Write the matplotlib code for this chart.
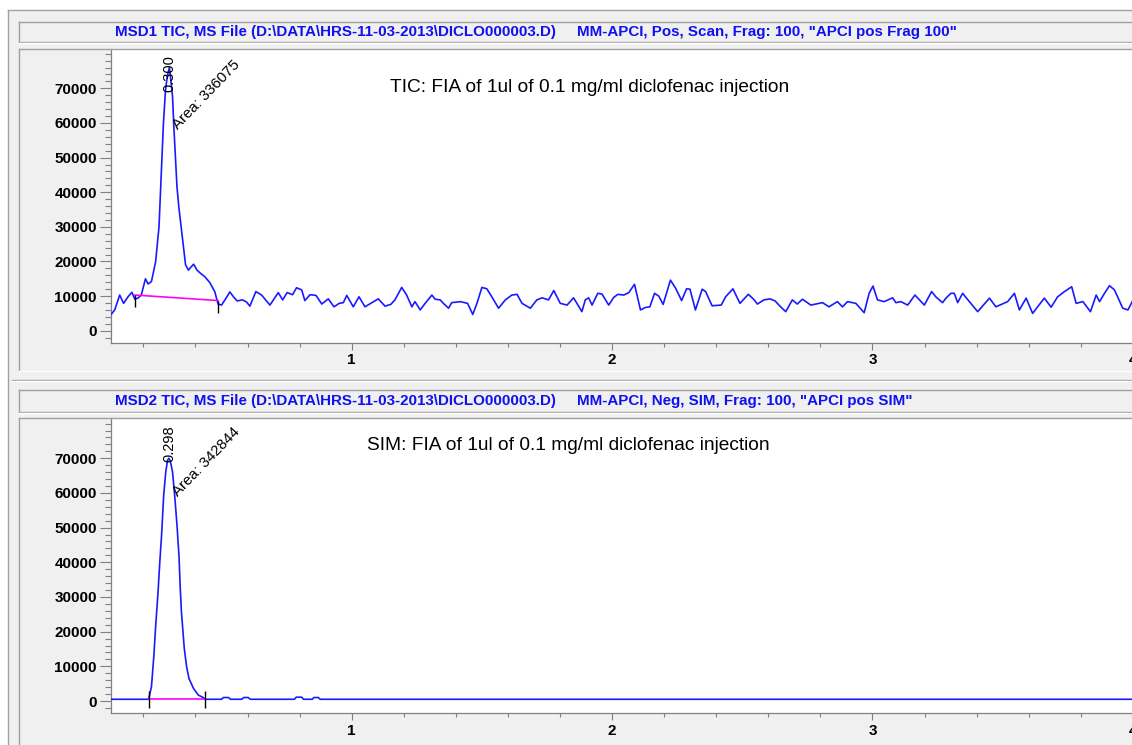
import matplotlib
matplotlib.use("Agg")
import matplotlib.pyplot as plt
from matplotlib.lines import Line2D
from matplotlib.patches import Rectangle

plt.rcParams['font.family'] = ['Liberation Sans', 'DejaVu Sans']

# ---------------- data ----------------
tic_time = [0.077, 0.090, 0.109, 0.124, 0.141, 0.156, 0.167, 0.179, 0.192, 0.208,
            0.218, 0.231, 0.247, 0.260, 0.265, 0.272, 0.277, 0.285, 0.292, 0.300,
            0.304, 0.312, 0.317, 0.323, 0.329, 0.336, 0.350, 0.362, 0.373, 0.382,
            0.393, 0.406, 0.419, 0.436, 0.455, 0.474, 0.487, 0.500, 0.515, 0.532,
            0.547, 0.560, 0.581, 0.596, 0.609, 0.632, 0.654, 0.686, 0.718, 0.735,
            0.752, 0.773, 0.788, 0.808, 0.820, 0.840, 0.863, 0.885, 0.910, 0.932,
            0.952, 0.968, 0.981, 1.006, 1.028, 1.051, 1.073, 1.102, 1.128, 1.150,
            1.166, 1.192, 1.211, 1.231, 1.243, 1.263, 1.282, 1.308, 1.320, 1.340,
            1.352, 1.372, 1.384, 1.417, 1.445, 1.465, 1.481, 1.500, 1.519, 1.538,
            1.564, 1.590, 1.615, 1.635, 1.654, 1.686, 1.711, 1.731, 1.756, 1.776,
            1.801, 1.827, 1.852, 1.865, 1.884, 1.897, 1.910, 1.923, 1.945, 1.961,
            1.987, 2.006, 2.022, 2.045, 2.064, 2.086, 2.109, 2.128, 2.145, 2.163,
            2.179, 2.196, 2.224, 2.243, 2.267, 2.286, 2.299, 2.320, 2.346, 2.359,
            2.384, 2.419, 2.436, 2.464, 2.491, 2.523, 2.542, 2.558, 2.583, 2.606,
            2.626, 2.647,
            2.667, 2.692, 2.711, 2.731, 2.763, 2.808, 2.833, 2.865, 2.885, 2.904,
            2.936, 2.968, 2.987, 3.002, 3.019, 3.045, 3.077, 3.090, 3.109, 3.135,
            3.163, 3.199, 3.227, 3.243, 3.269, 3.282, 3.301, 3.314, 3.327, 3.346,
            3.372, 3.404, 3.449, 3.474, 3.519, 3.545, 3.564, 3.590, 3.615, 3.634,
            3.660, 3.686, 3.711, 3.737, 3.765, 3.782, 3.808, 3.837, 3.859, 3.872,
            3.891, 3.910, 3.929, 3.961, 3.981, 4.001]
tic_vals = [4800, 6000, 10300, 7900, 9800, 11100, 9100, 9400, 10300, 15000,
            13500, 14200, 19900, 30000, 38700, 51200, 59900, 69500, 73600, 76000,
            73400, 67600, 58900, 50300, 41600, 35800, 26700, 19000, 17500, 18300,
            19200, 17500, 16600, 15600, 13900, 11300, 7700, 7400, 9100, 11200,
            9700, 8600, 8900, 8300, 7100, 11300, 10300, 7400, 11000, 8900,
            11000, 10400, 12400, 11800, 8700, 10400, 10200, 7700, 9200, 6900,
            7900, 8100, 10200, 6900, 9800, 6900, 7900, 9200, 7100, 7600,
            8900, 12500, 10300, 6900, 8400, 6000, 7900, 10300, 9100, 8900,
            7900, 6500, 8100, 8400, 7900, 4700, 7900, 12500, 12100, 9800,
            6500, 8900, 10300, 10500, 7900, 6500, 8900, 9500, 8900, 11600,
            7900, 7400, 9500, 7900, 5500, 8900, 9500, 7400, 10800, 10600,
            7400, 9600, 10500, 10300, 11000, 13400, 6000, 6700, 6900, 10800,
            10000, 7600, 14600, 12400, 8700, 12100, 12000, 6000, 12000, 11300,
            7200, 7400, 9800, 12100, 7900, 10500, 9200, 7700, 8900, 9200,
            8600, 6900,
            5500, 8900, 7700, 9100, 7400, 8100, 6900, 8400, 6900, 8400,
            7900, 5200, 10800, 12900, 8900, 8400, 9500, 8100, 8400, 7400,
            10300, 7400, 11300, 9800, 8100, 9400, 10800, 10800, 8100, 10800,
            8400, 5500, 9400, 6900, 8400, 10800, 6000, 9400, 5000, 6900,
            9400, 6800, 9800, 11300, 12700, 7900, 8400, 5500, 10300, 8400,
            10800, 13000, 11800, 6500, 6000, 8900]

sim_time = [0.077, 0.220, 0.231, 0.240, 0.247, 0.256, 0.263, 0.270, 0.278, 0.286,
            0.293, 0.298, 0.303, 0.312, 0.321, 0.329, 0.337, 0.341, 0.346, 0.357,
            0.366, 0.375, 0.392, 0.411, 0.430, 0.437, 0.500, 0.507, 0.527, 0.534,
            0.578, 0.585, 0.603, 0.610, 0.780, 0.787, 0.808, 0.815, 0.848, 0.855,
            0.872, 0.879, 4.012]
sim_vals = [500, 500, 4100, 12800, 21400, 31000, 40000, 48000, 59400, 66100,
            69500, 70000, 69300, 66100, 58500, 50800, 41500, 33500, 25800, 15200,
            9900, 6500, 3700, 1700, 1000, 500, 500, 1000, 1000, 500,
            500, 1000, 1000, 500, 500, 1100, 1100, 500, 500, 1000,
            1000, 500, 500]

tic_base_time = [0.168, 0.488]
tic_base_vals = [10300, 8700]
sim_base_time = [0.220, 0.437]
sim_base_vals = [500, 500]

tic_peak_rt = 0.300
tic_peak_label = "0.300"
tic_area_label = "Area: 336075"
sim_peak_rt = 0.298
sim_peak_label = "0.298"
sim_area_label = "Area: 342844"

y_ticks = [0, 10000, 20000, 30000, 40000, 50000, 60000, 70000]
y_tick_labels = ['0', '10000', '20000', '30000', '40000', '50000', '60000', '70000']
y_minor = list(range(-2000, 80001, 2000))
x_ticks = [1, 2, 3, 4]
x_tick_labels = ['1', '2', '3', '4']
x_minor = [0.2, 0.4, 0.6, 0.8, 1.2, 1.4, 1.6, 1.8, 2.2, 2.4, 2.6, 2.8, 3.2, 3.4, 3.6, 3.8]

hdr1_left = "MSD1 TIC, MS File (D:\\DATA\\HRS-11-03-2013\\DICLO000003.D)"
hdr1_right = 'MM-APCI, Pos, Scan, Frag: 100, "APCI pos Frag 100"'
hdr2_left = "MSD2 TIC, MS File (D:\\DATA\\HRS-11-03-2013\\DICLO000003.D)"
hdr2_right = 'MM-APCI, Neg, SIM, Frag: 100, "APCI pos SIM"'
note1 = "TIC: FIA of 1ul of 0.1 mg/ml diclofenac injection"
note2 = "SIM: FIA of 1ul of 0.1 mg/ml diclofenac injection"

# ---------------- layout ----------------
W, H = 1132, 745
fig = plt.figure(figsize=(W / 100, H / 100), dpi=100)
fig.patch.set_facecolor('white')


def fx(px):
    return px / W


def fy(py):
    return 1 - py / H


BG = '#f0f0f0'
EDGE = '#a0a0a0'
TRACE = '#1a1aff'
HDR = '#1010f0'
AXC = '#808080'

fig.add_artist(Rectangle((fx(8), 0), 1 - fx(8), fy(10), transform=fig.transFigure,
                         facecolor=BG, edgecolor='none', zorder=0))


def hline(y, x0, x1, color=EDGE):
    fig.add_artist(Line2D([fx(x0), fx(x1)], [fy(y), fy(y)], transform=fig.transFigure,
                          color=color, lw=1.0, zorder=1))


def vline(x, y0, y1, color=EDGE):
    fig.add_artist(Line2D([fx(x), fx(x)], [fy(y0), fy(y1)], transform=fig.transFigure,
                          color=color, lw=1.0, zorder=1))


# outer border
hline(10, 8, W)
vline(8, 10, H)
# top header box
hline(22, 19, W); vline(19, 22, 42); hline(42, 19, W); hline(43, 19, W, 'white')
# top panel frame
hline(49, 19, W); vline(19, 49, 370); hline(371, 19, W, 'white')
# splitter
hline(380, 12, W); hline(381, 12, W, 'white')
# bottom header box
hline(390, 19, W); vline(19, 390, 412); hline(412, 19, W); hline(413, 19, W, 'white')
# bottom panel frame
hline(418, 19, W); vline(19, 418, H)

X1_PX = 351.7
X_PER_MIN = 260.4


def px_to_t(px):
    return 1 + (px - X1_PX) / X_PER_MIN


def make_axes(top_px, bottom_px, ymin, ymax):
    ax = fig.add_axes([fx(111), fy(bottom_px), fx(1136) - fx(111), fy(top_px) - fy(bottom_px)])
    ax.set_facecolor('white')
    ax.set_xlim(px_to_t(111), px_to_t(1136))
    ax.set_ylim(ymin, ymax)
    for s in ('top', 'right'):
        ax.spines[s].set_visible(False)
    for s in ('left', 'bottom'):
        ax.spines[s].set_color(AXC)
        ax.spines[s].set_linewidth(0.9)
    ax.set_yticks(y_ticks, labels=y_tick_labels)
    ax.set_yticks(y_minor, minor=True)
    ax.set_xticks(x_ticks, labels=x_tick_labels)
    ax.set_xticks(x_minor, minor=True)
    ax.tick_params(axis='y', which='major', length=7.9, width=0.8, color=AXC, pad=2.2, labelsize=11)
    ax.tick_params(axis='y', which='minor', length=4.0, width=0.8, color=AXC)
    ax.tick_params(axis='x', which='major', length=5.0, width=0.8, color=AXC, pad=2.5, labelsize=11)
    ax.tick_params(axis='x', which='minor', length=2.6, width=0.8, color=AXC)
    for lbl in ax.get_yticklabels() + ax.get_xticklabels():
        lbl.set_fontweight('bold')
    return ax


ax1 = make_axes(50, 343, -3550, 81070)
ax2 = make_axes(418, 713.3, -3547, 81617)

# traces
ax1.plot(tic_time, tic_vals, color=TRACE, lw=1.2, zorder=3)
ax1.plot(tic_base_time, tic_base_vals, color='#ff00ff', lw=1.2, zorder=4)
ax1.vlines(tic_base_time, [v - 3500 for v in tic_base_vals], tic_base_vals, color='black', lw=1.0, zorder=5)

ax2.plot(sim_time, sim_vals, color=TRACE, lw=1.2, zorder=3)
ax2.plot(sim_base_time, sim_base_vals, color='#ff00ff', lw=1.2, zorder=4)
ax2.vlines(sim_base_time, [v - 2500 for v in sim_base_vals],
           [v + 2500 for v in sim_base_vals], color='black', lw=1.0, zorder=5)

# peak labels
ax1.text(tic_peak_rt, 68900, tic_peak_label, rotation=90, rotation_mode='anchor',
         ha='left', va='center', fontsize=10.5, color='black', zorder=6, clip_on=False)
ax1.text(0.334, 58000, tic_area_label, rotation=46, rotation_mode='anchor',
         ha='left', va='baseline', fontsize=10.8, color='black', zorder=6)
ax2.text(sim_peak_rt, 68900, sim_peak_label, rotation=90, rotation_mode='anchor',
         ha='left', va='center', fontsize=10.5, color='black', zorder=6, clip_on=False)
ax2.text(0.334, 58700, sim_area_label, rotation=46, rotation_mode='anchor',
         ha='left', va='baseline', fontsize=10.8, color='black', zorder=6)

# headers
fig.text(fx(115), fy(32), hdr1_left, color=HDR, fontsize=10.9, fontweight='bold', va='center', ha='left')
fig.text(fx(577), fy(32), hdr1_right, color=HDR, fontsize=10.9, fontweight='bold', va='center', ha='left')
fig.text(fx(115), fy(401), hdr2_left, color=HDR, fontsize=10.9, fontweight='bold', va='center', ha='left')
fig.text(fx(577), fy(401), hdr2_right, color=HDR, fontsize=10.9, fontweight='bold', va='center', ha='left')

# notes inside plots
fig.text(fx(390), fy(87), note1, color='black', fontsize=13.8, va='center', ha='left', zorder=10)
fig.text(fx(367), fy(445), note2, color='black', fontsize=13.8, va='center', ha='left', zorder=10)

fig.savefig('out.png', dpi=100, facecolor=fig.get_facecolor())
